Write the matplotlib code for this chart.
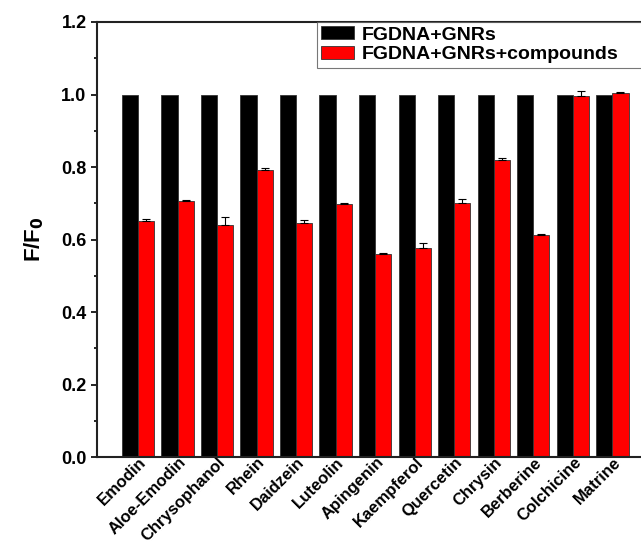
import matplotlib.pyplot as plt
import numpy as np
from matplotlib.ticker import MultipleLocator
from matplotlib.transforms import ScaledTranslation

plt.rcParams['font.family'] = ['Liberation Sans', 'DejaVu Sans']
plt.rcParams['font.weight'] = 'bold'

compounds = ["Emodin", "Aloe-Emodin", "Chrysophanol", "Rhein", "Daidzein", "Luteolin",
             "Apingenin", "Kaempferol", "Quercetin", "Chrysin", "Berberine", "Colchicine", "Matrine"]
control = [1.0] * 13
treated = [0.651, 0.707, 0.641, 0.793, 0.645, 0.697, 0.560, 0.577, 0.701, 0.818, 0.613, 0.997, 1.004]
treated_err = [0.006, 0.002, 0.020, 0.003, 0.008, 0.005, 0.004, 0.012, 0.010, 0.006, 0.002, 0.012, 0.003]

fig = plt.figure(figsize=(6.41, 5.5), dpi=100)
ax = fig.add_axes([97/641, 1-457/550, 1.012 - 97/641, (457-22)/550])

x = np.arange(len(compounds))
w = 0.41
ax.bar(x - w/2, control, w, color='black', edgecolor='#333333', linewidth=0.6, label='FGDNA+GNRs')
ax.bar(x + w/2, treated, w, color='#ff0000', edgecolor='#333333', linewidth=0.6,
       label='FGDNA+GNRs+compounds')
ax.errorbar(x + w/2, treated, yerr=[np.zeros(len(treated)), treated_err], fmt='none',
            ecolor='black', elinewidth=0.8, capsize=3, capthick=0.8)

ax.set_xlim(-1.04, 12.92)
ax.set_ylim(0, 1.2)
ax.yaxis.set_minor_locator(MultipleLocator(0.1))
ax.set_yticks(np.arange(0, 1.21, 0.2))
ax.set_yticklabels(['%.1f' % v for v in np.arange(0, 1.21, 0.2)], fontsize=13, fontweight='bold')
ax.tick_params(axis='y', which='major', direction='out', length=4.5, width=1.2, pad=3)
ax.tick_params(axis='y', which='minor', direction='out', length=2.5, width=1.2)
ax.set_xticks(x)
ax.set_xticklabels(compounds, rotation=45, ha='right', va='center', rotation_mode='anchor',
                   fontsize=12, fontweight='bold')
ax.tick_params(axis='x', length=0, pad=2)
offset = ScaledTranslation(6/100, 0, fig.dpi_scale_trans)
for lbl in ax.get_xticklabels():
    lbl.set_transform(lbl.get_transform() + offset)
for s in ax.spines.values():
    s.set_linewidth(1.5)
    s.set_color('#222222')

ax.set_ylabel('F/F$_\\mathbf{0}$', fontsize=16, fontweight='bold')
ax.yaxis.set_label_coords(-0.092, 0.5)

# legend box runs off the right edge, as in the source figure
leg_top = 1 - 22/550
leg = fig.legend(loc='upper left', bbox_to_anchor=(317/641, leg_top - 0.01, 340/641, 0.01),
                 mode='expand', borderaxespad=0,
                 prop={'weight': 'bold', 'size': 14}, frameon=True, fancybox=False,
                 edgecolor='#555555', handlelength=1.7, handleheight=0.65, labelspacing=0.12,
                 handletextpad=0.4, borderpad=0.22)
leg.get_frame().set_linewidth(0.8)

fig.savefig('out.png', dpi=100)
